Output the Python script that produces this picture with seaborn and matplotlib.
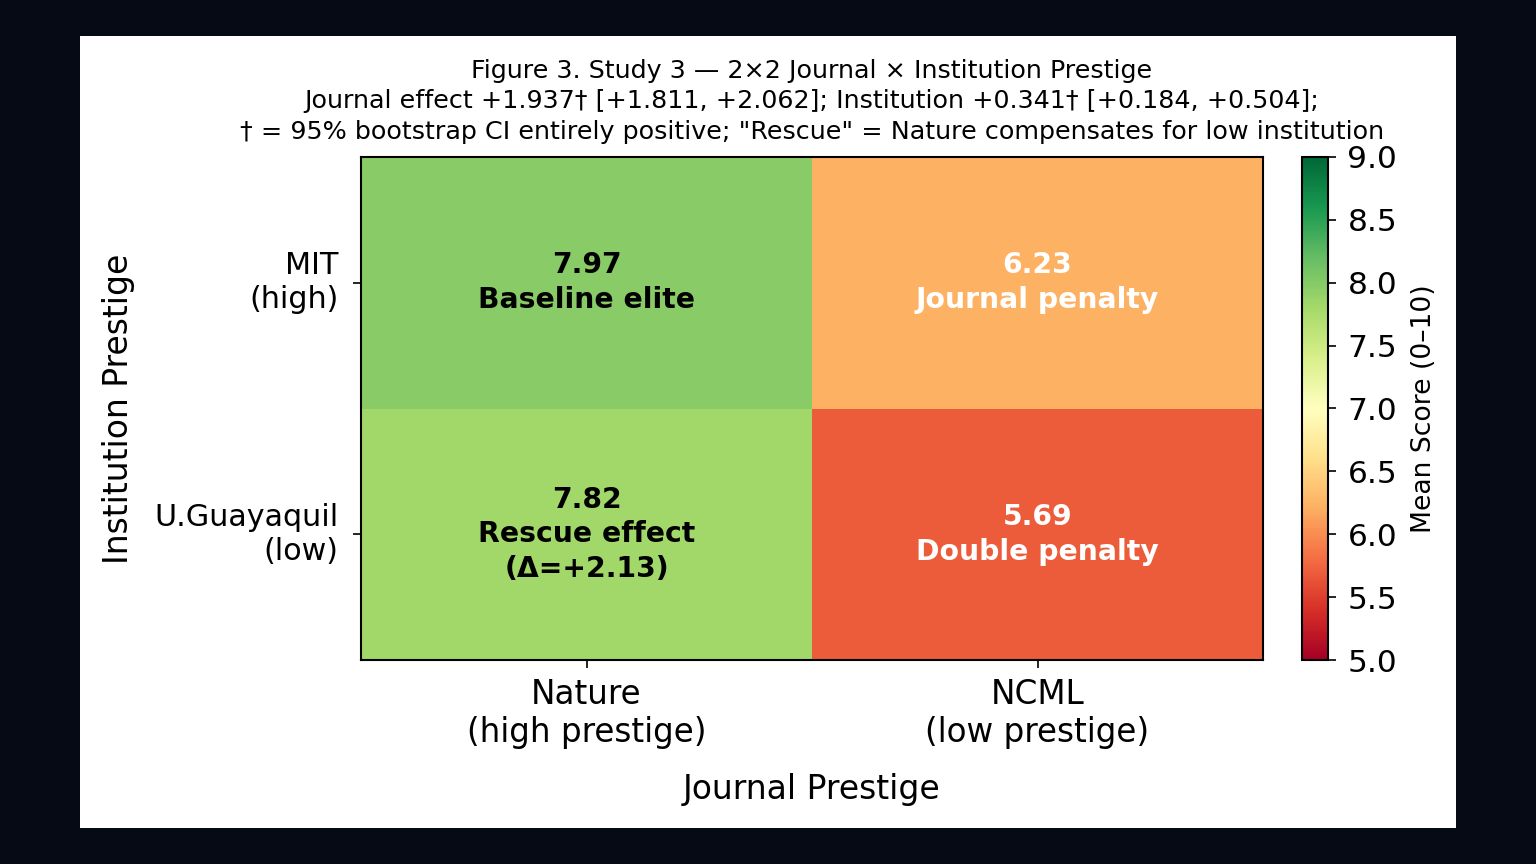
import pandas as pd
import seaborn as sns
import matplotlib.pyplot as plt
from matplotlib.patches import Rectangle


# values of the 2x2 design
journals = ['Nature\n(high prestige)', 'NCML\n(low prestige)']
institutions = ['MIT\n(high)', 'U.Guayaquil\n(low)']
scores = [[7.97, 6.23],
          [7.82, 5.69]]
cell_notes = [['Baseline elite', 'Journal penalty'],
              ['Rescue effect\n(\u0394=+2.13)', 'Double penalty']]
cbar_ticks = [5.0, 5.5, 6.0, 6.5, 7.0, 7.5, 8.0, 8.5, 9.0]

title = ("Figure 3. Study 3 \u2014 2\u00d72 Journal \u00d7 Institution Prestige\n"
         "Journal effect +1.937\u2020 [+1.811, +2.062]; Institution +0.341\u2020 [+0.184, +0.504];\n"
         "\u2020 = 95% bootstrap CI entirely positive; \"Rescue\" = Nature compensates for low institution")

df = pd.DataFrame(scores, index=institutions, columns=journals)

plt.rcParams['font.family'] = ['DejaVu Sans']

fig = plt.figure(figsize=(15.36, 8.64), dpi=100, facecolor='#060a14')
fig.patches.append(Rectangle((80 / 1536, 36 / 864), 1376 / 1536, 792 / 864,
                             transform=fig.transFigure, facecolor='white',
                             edgecolor='none', zorder=-10))

ax = fig.add_axes([361 / 1536, 1 - 660 / 864, 902 / 1536, 503 / 864])
cax = fig.add_axes([1302 / 1536, 1 - 660 / 864, 26 / 1536, 503 / 864])

sns.heatmap(df, cmap='RdYlGn', vmin=5, vmax=9, ax=ax, cbar_ax=cax,
            cbar_kws={'ticks': cbar_ticks})

for i in range(2):
    for j in range(2):
        v = scores[i][j]
        color = 'black' if v >= 7 else 'white'
        ax.text(j + 0.5, i + 0.5, f"{v:.2f}\n{cell_notes[i][j]}",
                ha='center', va='center', fontsize=20.3, fontweight='bold',
                color=color, linespacing=1.3)

for s in ax.spines.values():
    s.set_visible(True)
    s.set_linewidth(1.5)
    s.set_color('black')

ax.tick_params(axis='x', labelsize=23.5, length=6, width=1.2, pad=7)
ax.tick_params(axis='y', labelsize=21.7, length=6, width=1.2, pad=10)
ax.set_yticklabels(institutions, rotation=0, ha='right', va='center')
ax.set_xticklabels(journals, rotation=0, ha='center')
ax.set_xlabel("Journal Prestige", fontsize=23.8, labelpad=17)
ax.set_ylabel("Institution Prestige", fontsize=23.8, labelpad=14)
ax.set_title(title, fontsize=18.3, pad=13, linespacing=1.34)

cbar = ax.collections[0].colorbar
cbar.ax.tick_params(labelsize=22.5, length=6, width=1.2, pad=8)
cbar.ax.set_yticklabels([f"{t:.1f}" for t in cbar_ticks])
cbar.set_label("Mean Score (0\u201310)", fontsize=19.2, labelpad=10)
cbar.outline.set_visible(True)
cbar.outline.set_linewidth(1.5)
cbar.outline.set_edgecolor('black')

plt.savefig("out.png", dpi=100, facecolor=fig.get_facecolor())
